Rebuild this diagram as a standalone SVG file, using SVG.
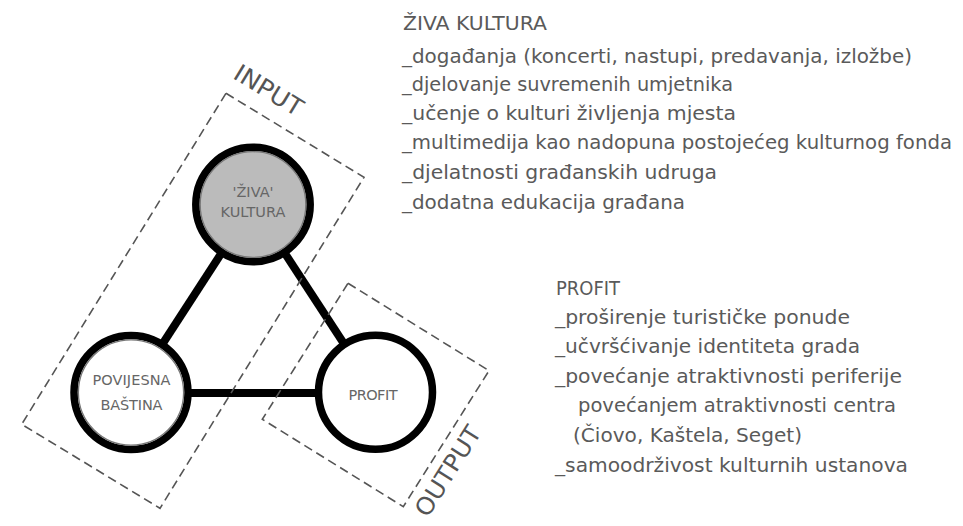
<svg xmlns="http://www.w3.org/2000/svg" width="963" height="526" viewBox="0 0 963 526">
<style>
.lst{font-family:"DejaVu Sans","Liberation Sans",sans-serif;font-size:20px;fill:#5a5a5a}
.lbl{font-family:"DejaVu Sans","Liberation Sans",sans-serif;font-size:14.5px;fill:#666;text-anchor:middle}
.zone{fill:none;stroke:#555;stroke-width:1.6;stroke-dasharray:9 5}
.ztxt{font-family:"DejaVu Sans","Liberation Sans",sans-serif;font-size:24px;fill:#555}
.ring{stroke:#000;stroke-width:7.5}
.inner{fill:none;stroke:#777;stroke-width:1.3}
.edge{stroke:#000;stroke-width:8;fill:none}
</style>
<rect width="963" height="526" fill="#fff"/>
<g id="connectors">
<line class="edge" x1="253" y1="204.5" x2="131" y2="392.5"/>
<line class="edge" x1="253" y1="204.5" x2="375.5" y2="392"/>
<line class="edge" x1="131" y1="393" x2="375.5" y2="393"/>
</g>
<g id="node-ziva-kultura">
<circle class="ring" cx="253" cy="204.5" r="57.2" fill="#bbbbbb"/>
<circle class="inner" cx="253" cy="204.5" r="52.8"/>
<text class="lbl" x="253" y="197">'ŽIVA'</text>
<text class="lbl" x="253" y="217" textLength="65">KULTURA</text>
</g>
<g id="node-povijesna-bastina">
<circle class="ring" cx="131" cy="392.5" r="57" fill="#fff"/>
<circle class="inner" cx="131" cy="392.5" r="52.6"/>
<text class="lbl" x="131.5" y="385" textLength="78">POVIJESNA</text>
<text class="lbl" x="131.5" y="410" textLength="62">BAŠTINA</text>
</g>
<g id="node-profit">
<circle class="ring" cx="375.5" cy="392.3" r="57" fill="#fff"/>
<text class="lbl" x="373" y="399.5" textLength="49">PROFIT</text>
</g>
<g id="zone-input">
<polygon class="zone" points="226,93.3 364,177.3 160,508.3 21.7,424.3"/>
<text class="ztxt" transform="translate(231.8,77.7) rotate(31.3)" textLength="76" lengthAdjust="spacingAndGlyphs">INPUT</text>
</g>
<g id="zone-output">
<polygon class="zone" points="348,283.3 489,370.7 403.3,506.7 262.3,419.3"/>
<text class="ztxt" transform="translate(427.7,518.6) rotate(-57.8)" textLength="102" lengthAdjust="spacingAndGlyphs">OUTPUT</text>
</g>
<g id="list-ziva-kultura">
<text class="lst" x="403" y="30" textLength="144" lengthAdjust="spacingAndGlyphs">ŽIVA KULTURA</text>
<text class="lst" x="402" y="63" textLength="510" lengthAdjust="spacingAndGlyphs">_događanja (koncerti, nastupi, predavanja, izložbe)</text>
<text class="lst" x="402" y="91" textLength="331" lengthAdjust="spacingAndGlyphs">_djelovanje suvremenih umjetnika</text>
<text class="lst" x="402" y="120" textLength="334" lengthAdjust="spacingAndGlyphs">_učenje o kulturi življenja mjesta</text>
<text class="lst" x="402" y="149" textLength="550" lengthAdjust="spacingAndGlyphs">_multimedija kao nadopuna postojećeg kulturnog fonda</text>
<text class="lst" x="402" y="179" textLength="315" lengthAdjust="spacingAndGlyphs">_djelatnosti građanskih udruga</text>
<text class="lst" x="402" y="209" textLength="283" lengthAdjust="spacingAndGlyphs">_dodatna edukacija građana</text>
</g>
<g id="list-profit">
<text class="lst" x="556" y="295" textLength="64" lengthAdjust="spacingAndGlyphs">PROFIT</text>
<text class="lst" x="555" y="324" textLength="295" lengthAdjust="spacingAndGlyphs">_proširenje turističke ponude</text>
<text class="lst" x="555" y="353" textLength="305" lengthAdjust="spacingAndGlyphs">_učvršćivanje identiteta grada</text>
<text class="lst" x="555" y="383" textLength="347" lengthAdjust="spacingAndGlyphs">_povećanje atraktivnosti periferije</text>
<text class="lst" x="578" y="412" textLength="318" lengthAdjust="spacingAndGlyphs">povećanjem atraktivnosti centra</text>
<text class="lst" x="573" y="442" textLength="229" lengthAdjust="spacingAndGlyphs">(Čiovo, Kaštela, Seget)</text>
<text class="lst" x="555" y="472" textLength="353" lengthAdjust="spacingAndGlyphs">_samoodrživost kulturnih ustanova</text>
</g>
</svg>
